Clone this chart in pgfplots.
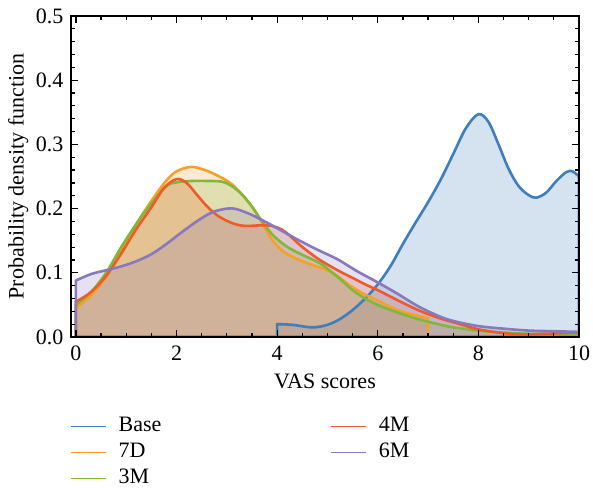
\documentclass[border=0pt]{standalone}
\usepackage{pgfplots}
\usepackage{pgfplotstable}
\pgfplotsset{compat=1.18}
\usepackage{fontspec}
\setmainfont{Liberation Serif}

\definecolor{cbase}{HTML}{3E7EBD}
\definecolor{c7d}{HTML}{F7A028}
\definecolor{c3m}{HTML}{7FB83A}
\definecolor{c4m}{HTML}{F05A28}
\definecolor{c6m}{HTML}{8878BE}

% density curves
\pgfplotstableread{
x y
4 0.020
4.3 0.019
4.7 0.015
5.0 0.019
5.25 0.028
5.5 0.042
5.75 0.060
6.0 0.082
6.25 0.110
6.5 0.145
6.75 0.178
7.0 0.210
7.25 0.245
7.5 0.285
7.75 0.325
8.0 0.347
8.2 0.335
8.4 0.300
8.6 0.262
8.8 0.235
9.0 0.221
9.15 0.217
9.35 0.225
9.55 0.243
9.75 0.257
9.87 0.258
10 0.250
}\database

\pgfplotstableread{
x y
0 0.045
0.3 0.065
0.6 0.094
0.9 0.135
1.25 0.182
1.5 0.212
1.78 0.242
2.0 0.258
2.3 0.265
2.6 0.259
2.9 0.248
3.1 0.238
3.3 0.222
3.5 0.203
3.7 0.178
3.87 0.155
4.05 0.138
4.25 0.127
4.5 0.118
4.78 0.110
5.0 0.104
5.2 0.095
5.45 0.080
5.75 0.066
6.0 0.057
6.25 0.047
6.5 0.039
6.75 0.034
7.0 0.029
}\datasevend

\pgfplotstableread{
x y
0 0.050
0.3 0.070
0.6 0.100
0.9 0.140
1.25 0.182
1.5 0.208
1.8 0.235
2.0 0.241
2.3 0.243
2.6 0.243
2.9 0.242
3.1 0.235
3.3 0.222
3.5 0.203
3.7 0.180
3.9 0.160
4.1 0.146
4.25 0.138
4.5 0.128
4.85 0.115
5.1 0.100
5.3 0.087
5.5 0.073
5.75 0.060
6.0 0.050
6.4 0.038
6.8 0.028
7.2 0.020
7.5 0.015
8.0 0.010
8.5 0.007
9.0 0.005
10 0.004
}\datathreem

\pgfplotstableread{
x y
0 0.055
0.3 0.070
0.6 0.095
0.9 0.130
1.2 0.168
1.5 0.202
1.75 0.232
2.0 0.246
2.2 0.240
2.4 0.222
2.6 0.204
2.8 0.190
3.0 0.181
3.2 0.175
3.4 0.173
3.7 0.174
3.9 0.173
4.1 0.167
4.25 0.158
4.4 0.147
4.6 0.134
4.85 0.120
5.2 0.104
5.5 0.092
5.75 0.082
6.0 0.073
6.4 0.057
6.8 0.042
7.2 0.030
7.5 0.023
8.0 0.012
8.5 0.006
8.9 0.004
9.3 0.005
10 0.007
}\datafourm

\pgfplotstableread{
x y
0 0.088
0.3 0.098
0.6 0.104
0.9 0.110
1.2 0.118
1.5 0.129
1.8 0.145
2.1 0.163
2.4 0.180
2.7 0.194
3.0 0.200
3.2 0.199
3.5 0.190
3.8 0.178
4.1 0.165
4.4 0.152
4.8 0.136
5.2 0.121
5.6 0.102
6.0 0.085
6.4 0.067
6.8 0.048
7.2 0.033
7.5 0.025
8.0 0.017
8.5 0.013
9.0 0.010
9.5 0.009
10 0.008
}\datasixm

\begin{document}
\fontsize{11}{13}\selectfont
\begin{tikzpicture}
\path[use as bounding box] (-35.5pt,-75pt) rectangle (261pt,168.5pt);
\begin{axis}[
    at={(0,0)}, anchor=south west,
    scale only axis,
    width=254pt, height=160.5pt,
    xmin=-0.098, xmax=10, ymin=0, ymax=0.5,
    axis on top,
    axis line style={line width=0.8pt},
    tick align=inside,
    tick style={black, line width=0.6pt},
    major tick length=3.5pt,
    minor tick length=2pt,
    xtick={0,2,...,10},
    ytick={0,0.1,...,0.5},
    minor x tick num=3,
    minor y tick num=4,
    xticklabel pos=bottom,
    yticklabel pos=left,
    /pgf/number format/assume math mode=true,
    yticklabel style={/pgf/number format/.cd, fixed, fixed zerofill, precision=1},
    xticklabel style={anchor=base, yshift=-11.5pt},
    xlabel={VAS scores},
    ylabel={Probability density function},
    xlabel style={at={(axis description cs:0.5,-0.159)}, anchor=base},
    ylabel style={at={(axis description cs:-0.104,0.5)}, anchor=center},
    legend cell align=left,
    transpose legend,
    legend columns=3,
    legend image code/.code={\draw[#1, line width=0.6pt, fill=none] (0pt,0pt) -- (17.5pt,0pt);},
    legend style={draw=none, fill=none, inner sep=0pt, column sep=6pt,
        at={(axis description cs:-0.002,-0.2368)}, anchor=north west,
        nodes={inner sep=0pt, text height=9pt, text depth=4pt}},
    fillarea/.style={draw=none, fill=#1, fill opacity=0.22, smooth, tension=0.55, forget plot},
    curve/.style={draw=#1, line width=1.3pt, fill=none, smooth, tension=0.55},
]
% fills first, curves over them
\addplot[fillarea=cbase] table {\database} \closedcycle;
\addplot[fillarea=c7d] table {\datasevend} \closedcycle;
\addplot[fillarea=c3m] table {\datathreem} \closedcycle;
\addplot[fillarea=c4m] table {\datafourm} \closedcycle;
\addplot[fillarea=c6m] table {\datasixm} \closedcycle;

\addplot[curve=cbase] table {\database} \closedcycle;
\addlegendentry{\makebox[100pt][l]{Base}}
\addplot[curve=c7d] table {\datasevend} \closedcycle;
\addlegendentry{\makebox[100pt][l]{7D}}
\addplot[curve=c3m] table {\datathreem} \closedcycle;
\addlegendentry{\makebox[100pt][l]{3M}}
\addplot[curve=c4m] table {\datafourm} \closedcycle;
\addlegendentry{\makebox[100pt][l]{4M}}
\addplot[curve=c6m] table {\datasixm} \closedcycle;
\addlegendentry{\makebox[100pt][l]{6M}}
\end{axis}
\end{tikzpicture}
\end{document}
